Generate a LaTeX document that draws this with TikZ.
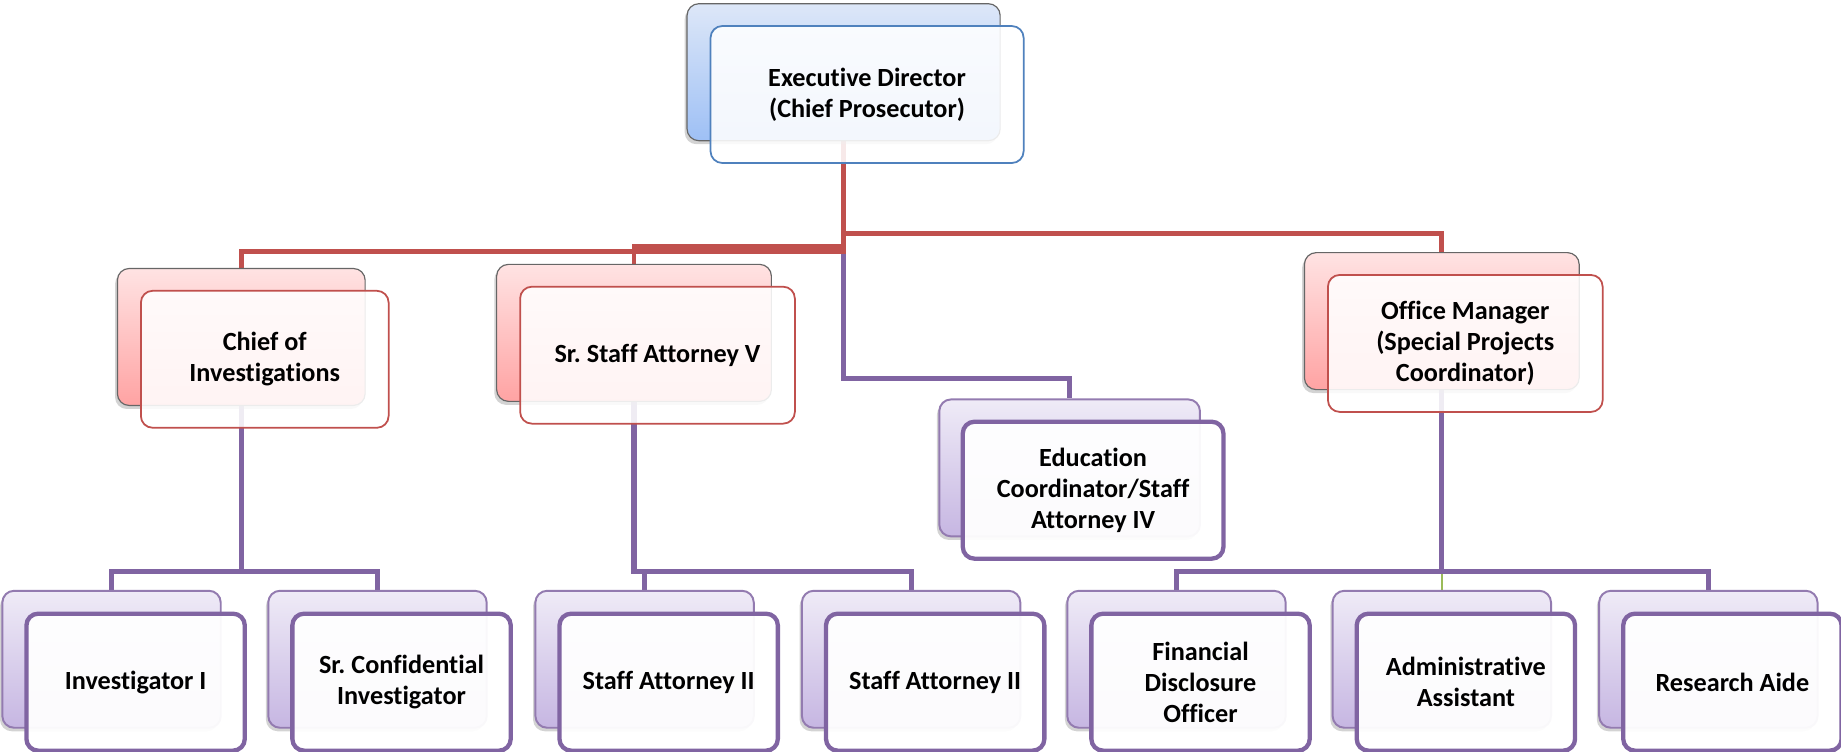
\documentclass[tikz,border=0pt]{standalone}
\usepackage{fontspec}
\setmainfont{Carlito}[Ligatures=NoCommon]
\frenchspacing
\usetikzlibrary{positioning,shadows,backgrounds}

\definecolor{accblue}{HTML}{4F81BD}
\definecolor{accred}{HTML}{C0504D}
\definecolor{accpurple}{HTML}{8064A2}
\definecolor{accgreen}{HTML}{9BBB59}
\definecolor{blueTop}{HTML}{DDE7F8}
\definecolor{blueBot}{HTML}{9EC0F5}
\definecolor{redTop}{HTML}{FFE3E3}
\definecolor{redBot}{HTML}{FFA3A3}
\definecolor{purpTop}{HTML}{EFEBF7}
\definecolor{purpBot}{HTML}{C6B6E2}

\tikzset{
  back/.style={rounded corners=6pt, minimum height=70pt, inner sep=0pt,
    drop shadow={shadow xshift=-1.2pt, shadow yshift=-1.8pt, opacity=0.35}},
  backblue/.style={back, draw=black!60, line width=0.6pt, top color=blueTop, bottom color=blueBot},
  backred/.style={back, draw=black!60, line width=0.6pt, top color=redTop, bottom color=redBot},
  backpurple/.style={back, draw=accpurple!85, line width=1pt, top color=purpTop, bottom color=purpBot, minimum width=111.6pt},
  front/.style={rounded corners=6pt, minimum height=70pt, inner sep=2pt, fill=white,
    fill opacity=0.88, text opacity=1, align=center, font=\fontsize{13.4}{15.9}\selectfont\bfseries},
  frontblue/.style={front, draw=accblue, line width=0.9pt},
  frontred/.style={front, draw=accred, line width=0.9pt},
  frontpurple/.style={front, draw=accpurple, line width=2.2pt, minimum width=111.6pt, fill opacity=0.95},
  redline/.style={draw=accred, line width=2.4pt},
  purpleline/.style={draw=accpurple, line width=2.6pt},
  greenline/.style={draw=accgreen, line width=1.2pt},
}

\begin{document}
\begin{tikzpicture}[x=0.6pt, y=-0.6pt]
  \useasboundingbox (0,0) rectangle (1568,640);

  \node[backblue, minimum width=160pt] (exec) at (718.5,61.5) {};
  \node[frontblue, minimum width=160pt] (exec-f) at ([shift={(20,19)}]exec.center) {Executive Director\\(Chief Prosecutor)};

  \node[backred, minimum width=126.6pt] (chief) at (205.5,287) {};
  \node[frontred, minimum width=126.6pt] (chief-f) at ([shift={(20,19)}]chief.center) {Chief of\\Investigations};

  \node[backred, minimum width=140.4pt] (sr) at (540,283.5) {};
  \node[frontred, minimum width=140.4pt] (sr-f) at ([shift={(20,19)}]sr.center) {Sr. Staff Attorney V};

  \node[backpurple, minimum width=133.2pt] (edu) at (911,398.5) {};
  \node[frontpurple, minimum width=133.2pt] (edu-f) at ([shift={(20,19)}]edu.center) {Education\\Coordinator/Staff\\Attorney IV};

  \node[backred, minimum width=140.4pt] (office) at (1228,273.5) {};
  \node[frontred, minimum width=140.4pt] (office-f) at ([shift={(20,19)}]office.center) {Office Manager\\(Special Projects\\Coordinator)};

  \node[backpurple] (inv) at (95,561.5) {};
  \node[frontpurple] (inv-f) at ([shift={(20.5,19.5)}]inv.center) {Investigator I};
  \node[backpurple] (conf) at (321.5,561.5) {};
  \node[frontpurple] (conf-f) at ([shift={(20.5,19.5)}]conf.center) {Sr. Confidential\\Investigator};
  \node[backpurple] (sa) at (549,561.5) {};
  \node[frontpurple] (sa-f) at ([shift={(20.5,19.5)}]sa.center) {Staff Attorney II};
  \node[backpurple] (sb) at (776,561.5) {};
  \node[frontpurple] (sb-f) at ([shift={(20.5,19.5)}]sb.center) {Staff Attorney II};
  \node[backpurple] (fin) at (1002,561.5) {};
  \node[frontpurple] (fin-f) at ([shift={(20.5,19.5)}]fin.center) {Financial\\Disclosure\\Officer};
  \node[backpurple] (admin) at (1228,561.5) {};
  \node[frontpurple] (admin-f) at ([shift={(20.5,19.5)}]admin.center) {Administrative\\Assistant};
  \node[backpurple] (aide) at (1455,561.5) {};
  \node[frontpurple] (aide-f) at ([shift={(20.5,19.5)}]aide.center) {Research Aide};

  \coordinate (buschief) at (0,214);
  \coordinate (bussr) at (0,210);
  \coordinate (busoff) at (0,199);
  \coordinate (busedu) at (0,322);
  \coordinate (buslow) at (0,487);

  \begin{scope}[on background layer]
    \draw[purpleline] (exec.center) |- (edu.north |- busedu) -- (edu.north);
    \draw[redline] (exec.center) |- (chief.north |- buschief) -- (chief.north);
    \draw[redline] (exec.center) |- (sr.north |- bussr) -- (sr.north);
    \draw[redline] (exec.center) |- (office.north |- busoff) -- (office.north);
    \draw[purpleline] (chief.center) |- (inv.north |- buslow) -- (inv.north);
    \draw[purpleline] (chief.center) |- (conf.north |- buslow) -- (conf.north);
    \draw[purpleline] (sr.center) |- (sa.north |- buslow) -- (sa.north);
    \draw[purpleline] (sr.center) |- (sb.north |- buslow) -- (sb.north);
    \draw[greenline] (office.center) -- (admin.north);
    \draw[purpleline] (office.center) |- (fin.north |- buslow) -- (fin.north);
    \draw[purpleline] (office.center) |- (aide.north |- buslow) -- (aide.north);
  \end{scope}
\end{tikzpicture}
\end{document}
